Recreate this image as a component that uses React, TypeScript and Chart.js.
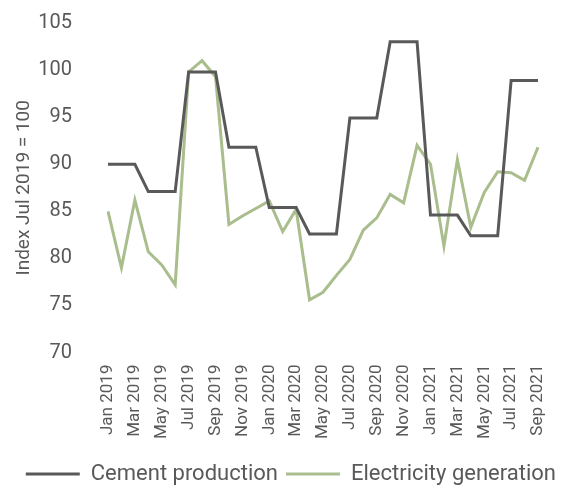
import React, { useEffect, useRef } from "react";
import { Chart, registerables } from "chart.js";

Chart.register(...registerables);

const months = [
  "Jan 2019", "Feb 2019", "Mar 2019", "Apr 2019", "May 2019", "Jun 2019",
  "Jul 2019", "Aug 2019", "Sep 2019", "Oct 2019", "Nov 2019", "Dec 2019",
  "Jan 2020", "Feb 2020", "Mar 2020", "Apr 2020", "May 2020", "Jun 2020",
  "Jul 2020", "Aug 2020", "Sep 2020", "Oct 2020", "Nov 2020", "Dec 2020",
  "Jan 2021", "Feb 2021", "Mar 2021", "Apr 2021", "May 2021", "Jun 2021",
  "Jul 2021", "Aug 2021", "Sep 2021",
];

const cementProduction = [
  90.0, 90.0, 90.0, 87.1, 87.1, 87.1,
  99.8, 99.8, 99.8, 91.8, 91.8, 91.8,
  85.4, 85.4, 85.4, 82.6, 82.6, 82.6,
  94.9, 94.9, 94.9, 103.0, 103.0, 103.0,
  84.6, 84.6, 84.6, 82.4, 82.4, 82.4,
  98.9, 98.9, 98.9,
];

const electricityGeneration = [
  85.0, 79.0, 86.2, 80.7, 79.3, 77.2,
  99.8, 101.0, 99.3, 83.6, 84.5, 85.3,
  86.1, 82.85, 85.2, 75.6, 76.4, 78.2,
  79.9, 83.0, 84.3, 86.8, 85.9, 92.0,
  90.0, 81.3, 90.5, 83.3, 87.0, 89.2,
  89.1, 88.3, 91.8,
];

const yTitle = "Index Jul 2019 = 100";
const seriesNames = ["Cement production", "Electricity generation"];

export default function App() {
  const ref = useRef<HTMLCanvasElement | null>(null);

  useEffect(() => {
    if (!ref.current) return;
    const textColor = "#595959";
    const font = "Roboto";
    const chart = new Chart(ref.current, {
      type: "line",
      data: {
        labels: months,
        datasets: [
          {
            label: seriesNames[0],
            data: cementProduction,
            borderColor: "#595959",
            backgroundColor: "#595959",
            borderWidth: 3,
            pointRadius: 0,
            tension: 0,
          },
          {
            label: seriesNames[1],
            data: electricityGeneration,
            borderColor: "#A9BD8D",
            backgroundColor: "#A9BD8D",
            borderWidth: 3,
            pointRadius: 0,
            tension: 0,
          },
        ],
      },
      options: {
        responsive: false,
        animation: false,
        layout: { padding: { top: 23, right: 0, left: 0, bottom: -10 } },
        plugins: {
          tooltip: { enabled: false },
          legend: {
            position: "bottom",
            align: "end",
            labels: {
              color: textColor,
              font: { family: font, size: 22 },
              usePointStyle: true,
              pointStyle: "line",
              pointStyleWidth: 54,
              padding: 8,
            },
          },
        },
        scales: {
          x: {
            grid: { display: false },
            border: { display: false },
            afterFit: (s: any) => {
              s.paddingLeft = 0;
              s.paddingRight = 26;
              s.height += 12;
            },
            ticks: {
              autoSkip: false,
              minRotation: 90,
              maxRotation: 90,
              padding: 4,
              color: textColor,
              font: { family: font, size: 17 },
              callback: function (_v: any, i: number) {
                return i % 2 === 0 ? months[i] : "";
              },
            },
          },
          y: {
            min: 70,
            max: 105,
            grid: { display: false },
            border: { display: false },
            afterFit: (s: any) => {
              s.paddingTop = 0;
              s.paddingBottom = 0;
              s.width = 108;
            },
            ticks: {
              stepSize: 5,
              padding: 28,
              color: textColor,
              font: { family: font, size: 20 },
            },
            title: {
              display: true,
              text: yTitle,
              color: textColor,
              font: { family: font, size: 19 },
              padding: { top: 13, bottom: 0 },
            },
          },
        },
      },
    });
    return () => chart.destroy();
  }, []);

  return (
    <div style={{ position: "absolute", left: 0, top: 0, width: 564, height: 485 }}>
      <canvas ref={ref} width={564} height={485} />
    </div>
  );
}
